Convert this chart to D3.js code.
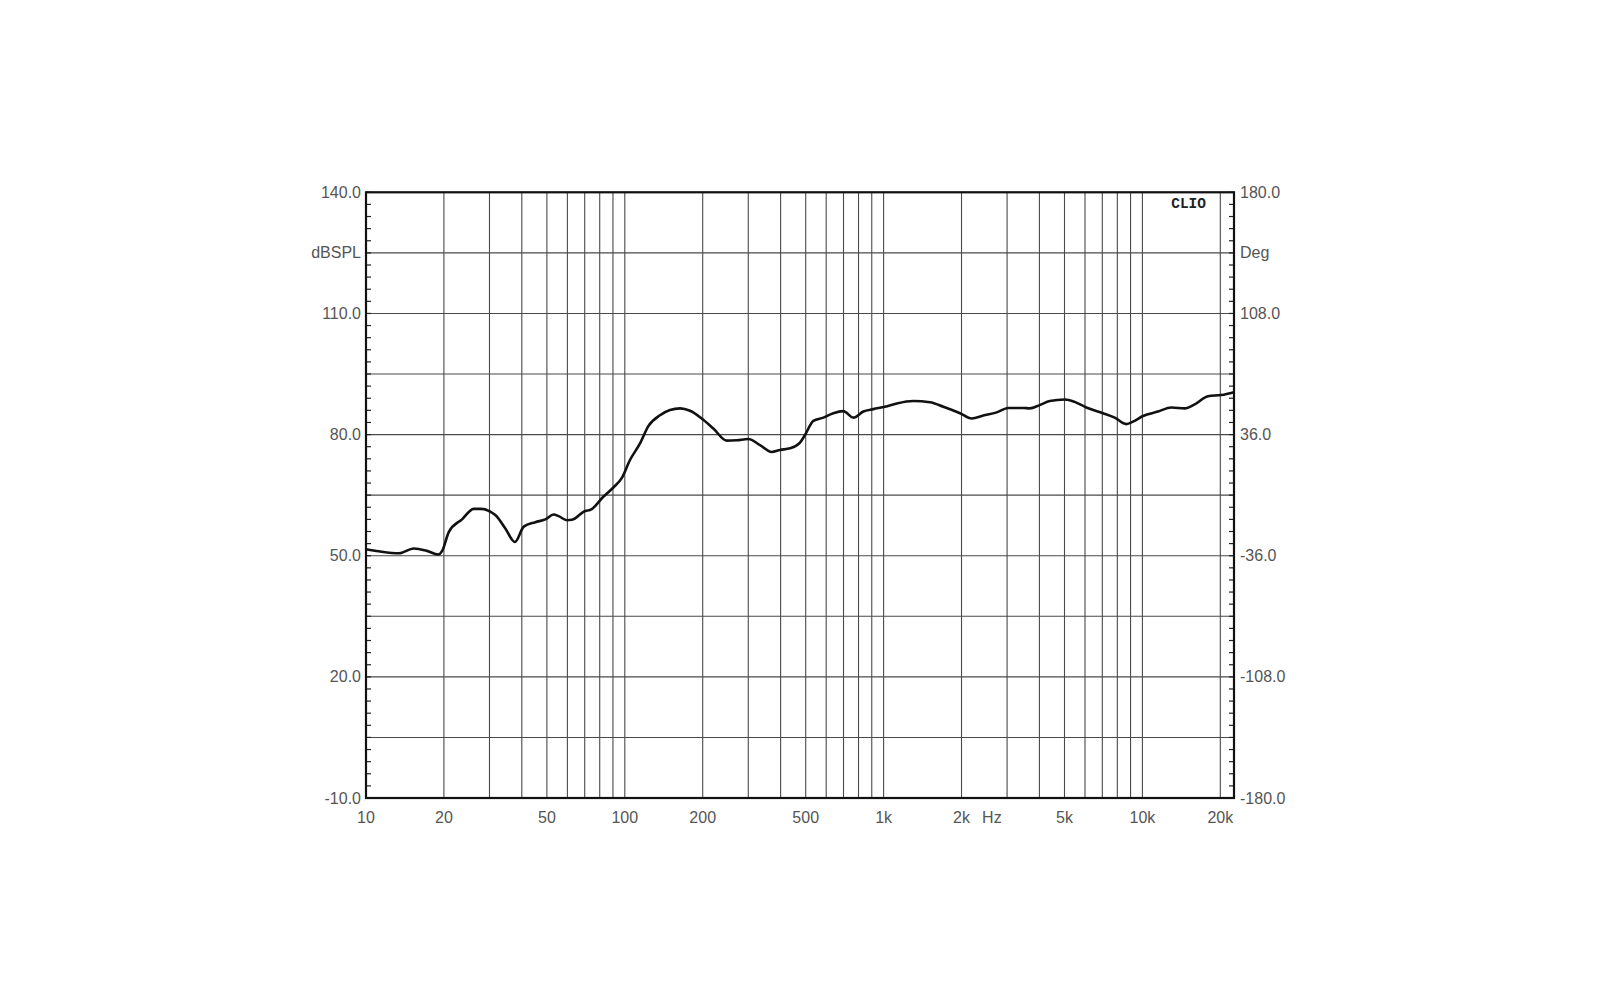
<!DOCTYPE html>
<html>
<head>
<meta charset="utf-8">
<script src="https://cdn.jsdelivr.net/npm/d3@7"></script>
<style>
  html, body { margin: 0; padding: 0; background: #ffffff; }
  svg { display: block; }
  text { font-family: "Liberation Sans", Arial, sans-serif; }
</style>
</head>
<body>
<svg id="chart" width="1600" height="1007"></svg>
<script>
// ---- data ----
const freqHz = [10, 11.2, 13.4, 15.3, 17.2, 19.0, 19.7, 20.9, 23.5, 26.1, 27.7, 31.6, 34.5, 37.6, 40.7, 45.1, 49.3, 53.1, 55.5, 59.8, 62.5, 70.4, 73.4, 82.6, 90.3, 97.3, 104.7, 114.5, 123.3, 136.8, 149.5, 163.5, 178.6, 198.2, 219.8, 247.6, 270.7, 300.1, 333.0, 369.5, 397.9, 434.9, 475.3, 496.9, 535.2, 584.8, 639.3, 698.9, 763.9, 834.9, 912.7, 1012, 1124, 1302, 1511, 1701, 1974, 2190, 2428, 2735, 3033, 3466, 3668, 4010, 4384, 5010, 5474, 6070, 7043, 7816, 8668, 9199, 10053, 11490, 12930, 14570, 15930, 17930, 20180, 22590];
const splDb = [51.6, 51.1, 50.6, 51.8, 51.2, 50.3, 51.2, 55.9, 59.0, 61.6, 61.6, 60.1, 56.8, 53.4, 57.2, 58.3, 59.0, 60.2, 59.8, 58.8, 58.9, 61.1, 61.3, 64.6, 66.9, 69.2, 73.7, 77.8, 82.1, 84.8, 86.1, 86.5, 85.9, 84.0, 81.5, 78.5, 78.6, 78.9, 77.4, 75.7, 76.2, 76.6, 78.0, 79.9, 83.4, 84.2, 85.3, 85.8, 84.2, 85.7, 86.3, 86.9, 87.7, 88.3, 88.0, 86.9, 85.3, 84.0, 84.7, 85.5, 86.6, 86.6, 86.5, 87.3, 88.3, 88.7, 88.1, 86.7, 85.3, 84.2, 82.6, 83.2, 84.6, 85.7, 86.7, 86.5, 87.5, 89.5, 89.8, 90.5];

const xGridFreqs = [10,20,30,40,50,60,70,80,90,100,200,300,400,500,600,700,800,900,1000,2000,3000,4000,5000,6000,7000,8000,9000,10000,20000];
const xTickValues = [10, 20, 50, 100, 200, 500, 1000, 2000, 5000, 10000, 20000];
const xTickLabels = ["10", "20", "50", "100", "200", "500", "1k", "2k", "5k", "10k", "20k"];
const xUnitLabel = "Hz";
const xUnitFreq = 2620;

const yGridValues = [140, 125, 110, 95, 80, 65, 50, 35, 20, 5, -10];
const yLeftLabelValues = [140, 125, 110, 80, 50, 20, -10];
const yLeftLabels = ["140.0", "dBSPL", "110.0", "80.0", "50.0", "20.0", "-10.0"];
const yRightLabelValues = [180, 144, 108, 36, -36, -108, -180];
const yRightLabels = ["180.0", "Deg", "108.0", "36.0", "-36.0", "-108.0", "-180.0"];
const brandLabel = "CLIO";

// ---- layout ----
const L = 366, R = 1234, T = 192.3, B = 798;
const svg = d3.select("#chart");

const x = d3.scaleLog().domain([10, 22590]).range([L, R]);
const y = d3.scaleLinear().domain([-10, 140]).range([B, T]);
const yR = d3.scaleLinear().domain([-180, 180]).range([B, T]);

const grid = svg.append("g");
grid.selectAll("line.vx").data(xGridFreqs).enter().append("line")
  .attr("x1", d => x(d)).attr("x2", d => x(d))
  .attr("y1", T).attr("y2", B)
  .attr("stroke", "#4a4a4a").attr("stroke-width", 1.1);
grid.selectAll("line.hy").data(yGridValues).enter().append("line")
  .attr("x1", L).attr("x2", R)
  .attr("y1", d => y(d)).attr("y2", d => y(d))
  .attr("stroke", "#4a4a4a").attr("stroke-width", 1.1);

// minor ticks (inside)
const leftMinor = d3.range(-10, 140.001, 3);
svg.append("g").selectAll("line").data(leftMinor).enter().append("line")
  .attr("x1", L).attr("x2", L + 5)
  .attr("y1", d => y(d)).attr("y2", d => y(d))
  .attr("stroke", "#222").attr("stroke-width", 1.2);
const rightMinor = d3.range(-180, 180.001, 7.2);
svg.append("g").selectAll("line").data(rightMinor).enter().append("line")
  .attr("x1", R - 5).attr("x2", R)
  .attr("y1", d => yR(d)).attr("y2", d => yR(d))
  .attr("stroke", "#222").attr("stroke-width", 1.2);

// frame
svg.append("rect").attr("x", L).attr("y", T).attr("width", R - L).attr("height", B - T)
  .attr("fill", "none").attr("stroke", "#111").attr("stroke-width", 2.2);

// curve
const line = d3.line().x((d, i) => x(freqHz[i])).y(d => y(d)).curve(d3.curveMonotoneX);
svg.append("path").datum(splDb).attr("d", line)
  .attr("fill", "none").attr("stroke", "#111").attr("stroke-width", 2.6)
  .attr("stroke-linejoin", "round");

// labels
const labelColor = "#555";
const fs = 16;
svg.append("g").selectAll("text").data(yLeftLabelValues).enter().append("text")
  .attr("x", L - 5).attr("y", d => y(d)).attr("dy", "0.35em")
  .attr("text-anchor", "end").attr("font-size", fs).attr("fill", labelColor)
  .text((d, i) => yLeftLabels[i]);
svg.append("g").selectAll("text").data(yRightLabelValues).enter().append("text")
  .attr("x", R + 6).attr("y", d => yR(d)).attr("dy", "0.35em")
  .attr("text-anchor", "start").attr("font-size", fs).attr("fill", labelColor)
  .text((d, i) => yRightLabels[i]);
svg.append("g").selectAll("text").data(xTickValues).enter().append("text")
  .attr("x", d => x(d)).attr("y", 823)
  .attr("text-anchor", "middle").attr("font-size", fs).attr("fill", labelColor)
  .text((d, i) => xTickLabels[i]);
svg.append("text").attr("x", x(xUnitFreq)).attr("y", 823)
  .attr("text-anchor", "middle").attr("font-size", fs).attr("fill", labelColor)
  .text(xUnitLabel);

svg.append("text").attr("x", 1206).attr("y", 208)
  .attr("text-anchor", "end").attr("font-size", 14.5).attr("font-weight", "bold")
  .attr("fill", "#222").style("font-family", "'Liberation Mono', 'Courier New', monospace")
  .text(brandLabel);
</script>
</body>
</html>
